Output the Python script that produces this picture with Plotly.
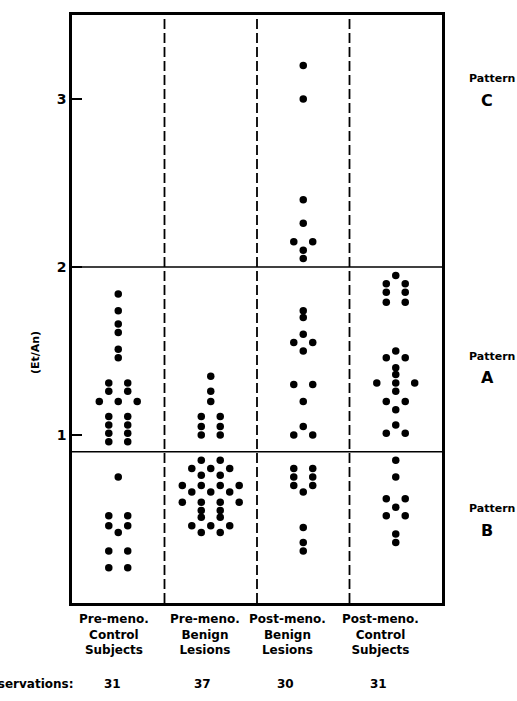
import plotly.graph_objects as go
from collections import Counter

# ---- data ----
categories = ["Pre-meno.<br>Control<br>Subjects", "Pre-meno.<br>Benign<br>Lesions",
              "Post-meno.<br>Benign<br>Lesions", "Post-meno.<br>Control<br>Subjects"]
observations = ["31", "37", "30", "31"]
y_ticks = [1, 2, 3]
pattern_labels = ["C", "A", "B"]
pattern_bounds = [2.0, 0.9]

pre_control = [1.84, 1.74, 1.66, 1.61, 1.51, 1.46, 1.31, 1.31, 1.26, 1.26, 1.20, 1.20, 1.20,
               1.11, 1.11, 1.06, 1.06, 1.01, 1.01, 0.96, 0.96,
               0.75, 0.52, 0.52, 0.46, 0.46, 0.42, 0.31, 0.31, 0.21, 0.21]
pre_benign = [1.35, 1.26, 1.20, 1.11, 1.11, 1.05, 1.05, 1.00, 1.00,
              0.85, 0.85, 0.80, 0.80, 0.80, 0.76, 0.76, 0.70, 0.70, 0.70, 0.70,
              0.66, 0.66, 0.66, 0.60, 0.60, 0.60, 0.60, 0.55, 0.55, 0.51, 0.51,
              0.46, 0.46, 0.46, 0.42, 0.42]
post_benign = [3.20, 3.00, 2.40, 2.26, 2.15, 2.15, 2.10, 2.05,
               1.74, 1.70, 1.60, 1.55, 1.55, 1.50, 1.30, 1.30, 1.20, 1.05, 1.00, 1.00,
               0.80, 0.80, 0.75, 0.75, 0.70, 0.70, 0.66, 0.45, 0.36, 0.31]
post_control = [1.95, 1.90, 1.90, 1.85, 1.85, 1.79, 1.79, 1.50, 1.46, 1.46,
                1.40, 1.36, 1.31, 1.31, 1.31, 1.26, 1.20, 1.20, 1.15, 1.06, 1.01, 1.01,
                0.85, 0.75, 0.62, 0.62, 0.57, 0.52, 0.52, 0.41, 0.36]

groups = [pre_control, pre_benign, post_benign, post_control]

FONT = "DejaVu Sans"
STEP = 0.205


def spread(values, idx):
    counts = Counter(values)
    seen = {}
    xs = []
    for v in values:
        n = counts[v]
        k = seen.get(v, 0)
        seen[v] = k + 1
        xs.append(idx + (k - (n - 1) / 2) * STEP)
    return xs


fig = go.Figure()
for i, vals in enumerate(groups):
    fig.add_trace(go.Scatter(x=spread(vals, i), y=vals, mode="markers",
                             marker=dict(color="black", size=7.5, line=dict(width=0)),
                             showlegend=False, hoverinfo="y"))

# horizontal pattern boundaries
for b in pattern_bounds:
    fig.add_shape(type="line", xref="paper", x0=0, x1=1, yref="y", y0=b, y1=b,
                  line=dict(color="black", width=1.6), layer="below")
# dashed dividers
for i in range(len(categories) - 1):
    fig.add_shape(type="line", xref="x", x0=i + 0.5, x1=i + 0.5, yref="y", y0=0, y1=3.5,
                  line=dict(color="black", width=1.8, dash="10px,4px"), layer="below")

# category labels
shifts = [-4, -6, -16, -15]
for i, c in enumerate(categories):
    fig.add_annotation(x=i, xref="x", xshift=shifts[i], y=-0.012, yref="paper", yanchor="top",
                       text=c, showarrow=False,
                       font=dict(family=FONT, size=12, color="black", weight="bold"))
    fig.add_annotation(x=i, xref="x", xshift=shifts[i] - 2, y=-0.122, yref="paper", yanchor="top",
                       text=observations[i], showarrow=False,
                       font=dict(family=FONT, size=12, color="black", weight="bold"))
fig.add_annotation(x=0.01, xref="paper", xanchor="right", y=-0.122, yref="paper", yanchor="top",
                   text="Observations:", showarrow=False,
                   font=dict(family=FONT, size=12, color="black", weight="bold"))

# pattern labels on right
pat_word_y = [0.892, 0.420, 0.161]
pat_letter_y = [0.855, 0.383, 0.123]
for lab, wy, ly in zip(pattern_labels, pat_word_y, pat_letter_y):
    fig.add_annotation(x=1.135, xref="paper", xanchor="center", y=wy, yref="paper",
                       yanchor="middle", text="Pattern", showarrow=False,
                       font=dict(family=FONT, size=11, color="black", weight="bold"))
    fig.add_annotation(x=1.122, xref="paper", xanchor="center", y=ly, yref="paper",
                       yanchor="middle", text=lab, showarrow=False,
                       font=dict(family=FONT, size=16, color="black", weight="bold"))

# y title
fig.add_annotation(x=-0.1, xref="paper", xanchor="center", y=0.425, yref="paper",
                   yanchor="middle", textangle=-90, text="(Et/An)", showarrow=False,
                   font=dict(family=FONT, size=11, color="black", weight="bold"))

fig.update_xaxes(range=[-0.5, 3.5], showgrid=False, zeroline=False, showticklabels=False,
                 showline=True, mirror=True, linecolor="black", linewidth=2.5, ticks="")
fig.update_yaxes(range=[0, 3.5], showgrid=False, zeroline=False,
                 tickvals=y_ticks, ticktext=[str(t) for t in y_ticks],
                 ticks="inside", ticklen=10, tickwidth=1.5, tickcolor="black",
                 tickfont=dict(family=FONT, size=14, color="black", weight="bold"),
                 showline=True, mirror=True, linecolor="black", linewidth=2.5)

fig.update_layout(width=517, height=701, margin=dict(l=72, r=75, t=13, b=98),
                  paper_bgcolor="white", plot_bgcolor="white")

fig.write_html("out.html", config={"displayModeBar": False},
               post_script="document.body.style.margin='0';")
